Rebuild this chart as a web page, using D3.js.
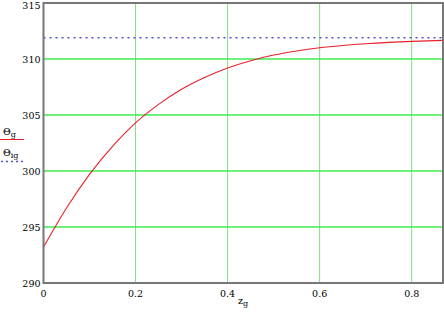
<!DOCTYPE html>
<html>
<head>
<meta charset="utf-8">
<script src="https://cdn.jsdelivr.net/npm/d3@7"></script>
<style>
  body { margin: 0; background: #fff; }
  svg { display: block; }
  svg text { font-family: "DejaVu Serif", "Liberation Serif", serif; font-size: 9.5px; }
</style>
</head>
<body>
<svg id="chart" width="444" height="314"></svg>
<script>
// values
const zg = [0, 0.05, 0.1, 0.15, 0.2, 0.25, 0.3, 0.35, 0.4, 0.45, 0.5, 0.55, 0.6, 0.65, 0.7, 0.75, 0.8, 0.868];
const thetaG = [293.2, 296.7, 299.7, 302.2, 304.3, 305.95, 307.3, 308.35, 309.2, 309.85, 310.35, 310.72, 311.0, 311.2, 311.36, 311.48, 311.57, 311.66];
const thetaIg = 311.9;
const xTicks = [0, 0.2, 0.4, 0.6, 0.8];
const yTicks = [290, 295, 300, 305, 310, 315];

const svg = d3.select('#chart');
// plot box edges
const plotL = 43.5, plotR = 443, plotT = 3, plotB = 283;

const x = d3.scaleLinear().domain([0, 0.868]).range([plotL, plotR]);
const y = d3.scaleLinear().domain([290, 315]).range([plotB, plotT]);

// grid lines
svg.append('g').selectAll('line')
  .data(xTicks.filter(d => d > 0))
  .join('line')
  .attr('x1', d => x(d)).attr('x2', d => x(d))
  .attr('y1', plotT).attr('y2', plotB)
  .attr('stroke', '#7fdc7f').attr('stroke-width', 1);

svg.append('g').selectAll('line')
  .data(yTicks.filter(d => d > 290 && d < 315))
  .join('line')
  .attr('x1', plotL).attr('x2', plotR)
  .attr('y1', d => y(d)).attr('y2', d => y(d))
  .attr('stroke', '#3fee50').attr('stroke-width', 1.6);

// asymptote (dotted)
svg.append('line')
  .attr('x1', plotL).attr('x2', plotR)
  .attr('y1', y(thetaIg)).attr('y2', y(thetaIg))
  .attr('stroke', '#5050d0').attr('stroke-width', 1.5)
  .attr('stroke-dasharray', '2,4');

// curve
const line = d3.line().x((d, i) => x(zg[i])).y(d => y(d)).curve(d3.curveMonotoneX);
svg.append('path')
  .datum(thetaG)
  .attr('d', line)
  .attr('fill', 'none')
  .attr('stroke', '#e8202a').attr('stroke-width', 1.1);

// frame
svg.append('rect')
  .attr('x', plotL).attr('y', plotT)
  .attr('width', plotR - plotL).attr('height', plotB - plotT)
  .attr('fill', 'none').attr('stroke', '#777').attr('stroke-width', 2);

// tick labels
svg.append('g').selectAll('text')
  .data(yTicks)
  .join('text')
  .attr('x', plotL - 3).attr('y', d => Math.max(y(d) + 3.5, 9))
  .attr('text-anchor', 'end')
  .text(d => d);

svg.append('g').selectAll('text')
  .data(xTicks)
  .join('text')
  .attr('x', d => x(d)).attr('y', plotB + 14)
  .attr('text-anchor', 'middle')
  .text(d => d);

// axis title
const xt = svg.append('text').attr('x', 238).attr('y', 304);
xt.append('tspan').text('z');
xt.append('tspan').attr('font-size', 8).attr('dy', 2).text('g');

// legend
const l1 = svg.append('text').attr('x', 3).attr('y', 135);
l1.append('tspan').text('Θ');
l1.append('tspan').attr('font-size', 8).attr('dy', 2).text('g');
svg.append('line').attr('x1', 0).attr('x2', 24).attr('y1', 139.5).attr('y2', 139.5)
  .attr('stroke', '#e8202a').attr('stroke-width', 1);

const l2 = svg.append('text').attr('x', 3).attr('y', 156);
l2.append('tspan').text('Θ');
l2.append('tspan').attr('font-size', 8).attr('dy', 2).text('ig');
svg.append('line').attr('x1', 1).attr('x2', 24).attr('y1', 161.5).attr('y2', 161.5)
  .attr('stroke', '#5050d0').attr('stroke-width', 1.5)
  .attr('stroke-dasharray', '2,3');
</script>
</body>
</html>
